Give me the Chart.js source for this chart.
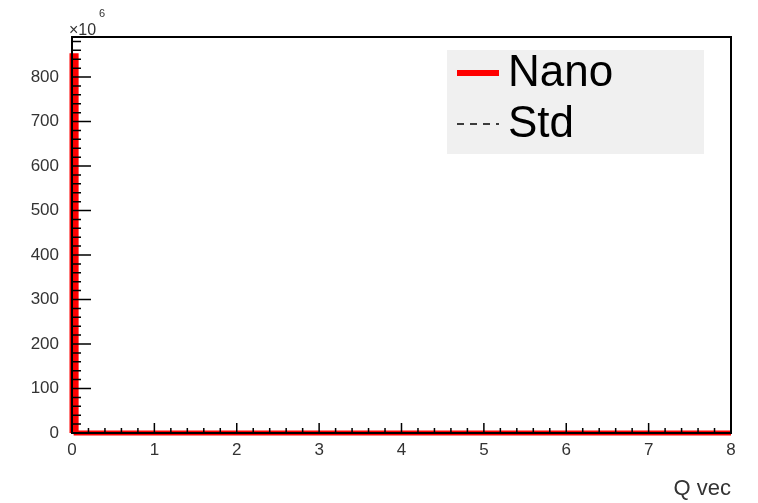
<!DOCTYPE html>
<html>
<head>
<meta charset="utf-8">
<script src="https://cdn.jsdelivr.net/npm/chart.js@4.4.1/dist/chart.umd.min.js"></script>
<style>
  html, body { margin: 0; padding: 0; background: #fff; }
  #wrap { width: 758px; height: 503px; }
</style>
</head>
<body>
<div id="wrap"><canvas id="qvecChart" width="758" height="503"></canvas></div>
<script>
// histogram edges: one narrow bin at zero, then the rest of the range is empty
const binEdges = [0, 0.05, 8];
const nanoCounts = [848, 0];   // ×10^6
const stdCounts = [848, 0];    // ×10^6
const xTicks = [0, 1, 2, 3, 4, 5, 6, 7, 8];
const yTicks = [0, 100, 200, 300, 400, 500, 600, 700, 800];

const FONT = '"Liberation Sans", Arial, Helvetica, sans-serif';

// outline points: rise at the first edge, step across each bin, drop at the end
function histPoints(counts) {
    const pts = [{ x: binEdges[0], y: 0 }];
    counts.forEach((c, i) => pts.push({ x: binEdges[i], y: c }));
    pts.push({ x: binEdges[binEdges.length - 1], y: 0 });
    return pts;
}

// ROOT-like frame with inward ticks, exponent and axis title
const framePlugin = {
    id: 'frame',
    afterDatasetsDraw(chart) {
        const { ctx, chartArea: a, scales: { x, y } } = chart;
        ctx.save();
        ctx.strokeStyle = '#000';
        ctx.lineWidth = 1.5;
        // x ticks (major every 1, minor every 0.2)
        ctx.beginPath();
        for (let i = 0; i <= 40; i++) {
            const px = x.getPixelForValue(i * 0.2);
            const len = i % 5 === 0 ? 10 : 5;
            ctx.moveTo(px, a.bottom);
            ctx.lineTo(px, a.bottom - len);
        }
        // y ticks (major every 100, minor every 20)
        for (let v = 0; v <= 880; v += 20) {
            const py = y.getPixelForValue(v);
            const len = v % 100 === 0 ? 19 : 9;
            ctx.moveTo(a.left, py);
            ctx.lineTo(a.left + len, py);
        }
        ctx.stroke();
        ctx.lineWidth = 2;
        ctx.strokeRect(a.left, a.top, a.right - a.left, a.bottom - a.top);

        ctx.fillStyle = '#333';
        ctx.font = '16px ' + FONT;
        ctx.textAlign = 'left';
        ctx.textBaseline = 'alphabetic';
        ctx.fillText('\u00d710', a.left - 3, a.top - 2);
        ctx.font = '11px ' + FONT;
        ctx.fillText('6', a.left + 27, a.top - 20);

        ctx.font = '22px ' + FONT;
        ctx.textAlign = 'right';
        ctx.fillText('Q vec', a.right, 495);
        ctx.restore();
    },
    afterDraw(chart) {
        // legend box
        const { ctx } = chart;
        const items = chart.data.datasets;
        ctx.save();
        ctx.fillStyle = '#f0f0f0';
        ctx.fillRect(447, 50, 257, 104);
        items.forEach((ds, i) => {
            const cy = 73 + i * 51;
            ctx.strokeStyle = ds.borderColor;
            ctx.lineWidth = ds.legendWidth;
            ctx.setLineDash(ds.legendDash || []);
            ctx.beginPath();
            ctx.moveTo(457, cy);
            ctx.lineTo(499, cy);
            ctx.stroke();
            ctx.setLineDash([]);
            ctx.fillStyle = '#000';
            ctx.font = '44px ' + FONT;
            ctx.textAlign = 'left';
            ctx.textBaseline = 'middle';
            ctx.fillText(ds.label, 508, cy + 1);
        });
        ctx.restore();
    }
};

new Chart(document.getElementById('qvecChart'), {
    type: 'line',
    data: {
        datasets: [
            {
                label: 'Nano',
                data: histPoints(nanoCounts),
                borderColor: '#ff0000',
                borderWidth: 5,
                legendWidth: 6,
                stepped: 'before',
                pointRadius: 0,
                clip: false,
                order: 0
            },
            {
                label: 'Std',
                data: histPoints(stdCounts),
                borderColor: '#000000',
                borderWidth: 1.5,
                legendWidth: 1.5,
                borderDash: [5, 4],
                legendDash: [7, 6],
                stepped: 'before',
                pointRadius: 0,
                clip: false,
                order: 1
            }
        ]
    },
    options: {
        responsive: false,
        animation: false,
        layout: { padding: { top: 37, right: 27, left: 0, bottom: 0 } },
        plugins: { legend: { display: false }, tooltip: { enabled: false } },
        scales: {
            x: {
                type: 'linear',
                min: 0,
                max: 8,
                grid: { display: false, drawTicks: false },
                border: { display: false },
                afterBuildTicks: s => { s.ticks = xTicks.map(v => ({ value: v })); },
                afterFit: s => { s.height = 70; },
                ticks: { color: '#333', font: { size: 17, family: FONT }, padding: 7, maxRotation: 0 }
            },
            y: {
                type: 'linear',
                min: 0,
                max: 890,
                grid: { display: false, drawTicks: false },
                border: { display: false },
                afterBuildTicks: s => { s.ticks = yTicks.map(v => ({ value: v })); },
                afterFit: s => { s.width = 72; },
                ticks: { color: '#333', font: { size: 17, family: FONT }, padding: 13 }
            }
        }
    },
    plugins: [framePlugin]
});
</script>
</body>
</html>
